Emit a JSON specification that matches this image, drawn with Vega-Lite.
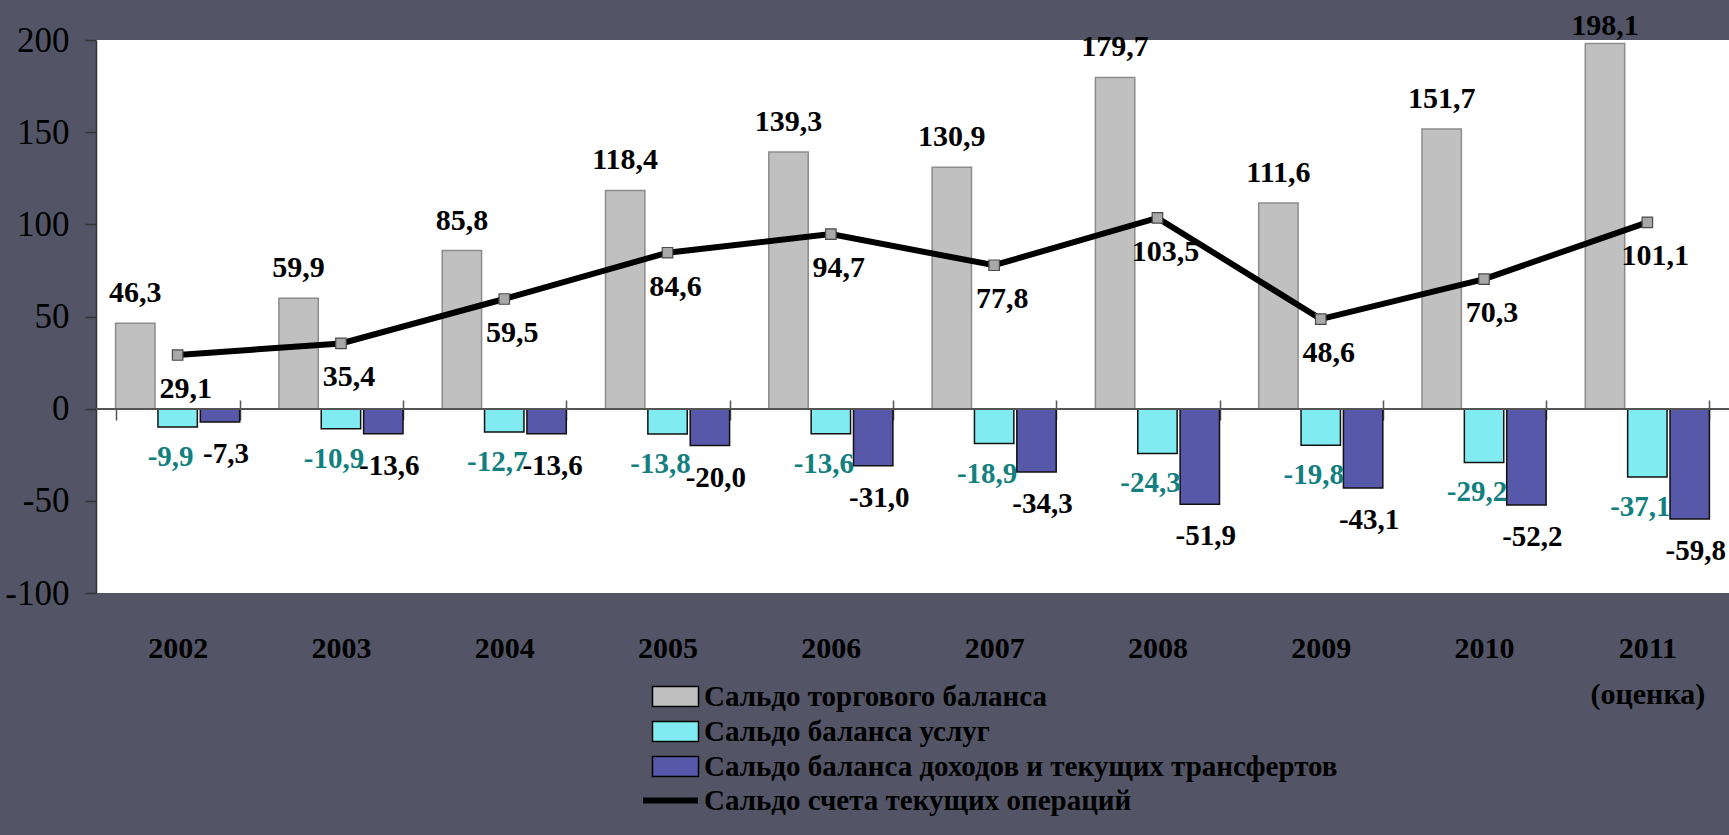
{
  "$schema": "https://vega.github.io/schema/vega-lite/v6.json",
  "width": 1633,
  "height": 553,
  "autosize": {"type": "none"},
  "padding": {"left": 96, "top": 40, "right": 0, "bottom": 242},
  "background": "#535566",
  "config": {
    "view": {"stroke": null, "fill": "white"},
    "locale": {"number": {"decimal": ",", "thousands": " ", "grouping": [3], "currency": ["", ""], "minus": "-"}},
    "font": "Liberation Serif"
  },
  "datasets": {
    "bars": [
      {"year": "2002", "series": "Сальдо торгового баланса", "value": 46.3},
      {"year": "2003", "series": "Сальдо торгового баланса", "value": 59.9},
      {"year": "2004", "series": "Сальдо торгового баланса", "value": 85.8},
      {"year": "2005", "series": "Сальдо торгового баланса", "value": 118.4},
      {"year": "2006", "series": "Сальдо торгового баланса", "value": 139.3},
      {"year": "2007", "series": "Сальдо торгового баланса", "value": 130.9},
      {"year": "2008", "series": "Сальдо торгового баланса", "value": 179.7},
      {"year": "2009", "series": "Сальдо торгового баланса", "value": 111.6},
      {"year": "2010", "series": "Сальдо торгового баланса", "value": 151.7},
      {"year": "2011", "series": "Сальдо торгового баланса", "value": 198.1},
      {"year": "2002", "series": "Сальдо баланса услуг", "value": -9.9},
      {"year": "2003", "series": "Сальдо баланса услуг", "value": -10.9},
      {"year": "2004", "series": "Сальдо баланса услуг", "value": -12.7},
      {"year": "2005", "series": "Сальдо баланса услуг", "value": -13.8},
      {"year": "2006", "series": "Сальдо баланса услуг", "value": -13.6},
      {"year": "2007", "series": "Сальдо баланса услуг", "value": -18.9},
      {"year": "2008", "series": "Сальдо баланса услуг", "value": -24.3},
      {"year": "2009", "series": "Сальдо баланса услуг", "value": -19.8},
      {"year": "2010", "series": "Сальдо баланса услуг", "value": -29.2},
      {"year": "2011", "series": "Сальдо баланса услуг", "value": -37.1},
      {"year": "2002", "series": "Сальдо баланса доходов и текущих трансфертов", "value": -7.3},
      {"year": "2003", "series": "Сальдо баланса доходов и текущих трансфертов", "value": -13.6},
      {"year": "2004", "series": "Сальдо баланса доходов и текущих трансфертов", "value": -13.6},
      {"year": "2005", "series": "Сальдо баланса доходов и текущих трансфертов", "value": -20.0},
      {"year": "2006", "series": "Сальдо баланса доходов и текущих трансфертов", "value": -31.0},
      {"year": "2007", "series": "Сальдо баланса доходов и текущих трансфертов", "value": -34.3},
      {"year": "2008", "series": "Сальдо баланса доходов и текущих трансфертов", "value": -51.9},
      {"year": "2009", "series": "Сальдо баланса доходов и текущих трансфертов", "value": -43.1},
      {"year": "2010", "series": "Сальдо баланса доходов и текущих трансфертов", "value": -52.2},
      {"year": "2011", "series": "Сальдо баланса доходов и текущих трансфертов", "value": -59.8}
    ],
    "ca": [
      {"year": "2002", "s": "Сальдо счета текущих операций", "value": 29.1},
      {"year": "2003", "s": "Сальдо счета текущих операций", "value": 35.4},
      {"year": "2004", "s": "Сальдо счета текущих операций", "value": 59.5},
      {"year": "2005", "s": "Сальдо счета текущих операций", "value": 84.6},
      {"year": "2006", "s": "Сальдо счета текущих операций", "value": 94.7},
      {"year": "2007", "s": "Сальдо счета текущих операций", "value": 77.8},
      {"year": "2008", "s": "Сальдо счета текущих операций", "value": 103.5},
      {"year": "2009", "s": "Сальдо счета текущих операций", "value": 48.6},
      {"year": "2010", "s": "Сальдо счета текущих операций", "value": 70.3},
      {"year": "2011", "s": "Сальдо счета текущих операций", "value": 101.1}
    ]
  },
  "layer": [
    {
      "data": {"name": "bars"},
      "mark": {"type": "bar", "strokeWidth": 1.5},
      "encoding": {
        "x": {
          "field": "year", "type": "nominal",
          "scale": {"paddingInner": 0.24, "paddingOuter": 0.12},
          "axis": {
            "title": null, "orient": "bottom", "offset": -193, "domain": false,
            "tickBand": "extent", "tickSize": 20, "tickColor": "#555555", "tickWidth": 1.5,
            "labelAngle": 0, "labelFont": "Liberation Serif", "labelFontSize": 30, "labelFontWeight": "bold",
            "labelColor": "black", "labelPadding": 213, "labelLineHeight": 46,
            "labelExpr": "datum.value == '2011' ? ['2011', '(оценка)'] : datum.value"
          }
        },
        "xOffset": {
          "field": "series", "type": "nominal",
          "scale": {"domain": ["Сальдо торгового баланса", "Сальдо баланса услуг", "Сальдо баланса доходов и текущих трансфертов"], "paddingInner": 0.07, "paddingOuter": 0}
        },
        "y": {
          "field": "value", "type": "quantitative",
          "scale": {"domain": [-100, 200], "nice": false, "zero": true},
          "axis": {
            "title": null, "values": [-100, -50, 0, 50, 100, 150, 200], "grid": false,
            "domainColor": "#333333", "domainWidth": 1.5, "tickColor": "#333333", "tickWidth": 1.5, "tickSize": 11,
            "labelFont": "Liberation Serif", "labelFontSize": 35, "labelColor": "black", "labelPadding": 16
          }
        },
        "fill": {
          "field": "series", "type": "nominal",
          "scale": {
            "domain": ["Сальдо торгового баланса", "Сальдо баланса услуг", "Сальдо баланса доходов и текущих трансфертов"],
            "range": ["#c0c0c0", "#80ecf2", "#5858aa"]
          },
          "legend": {
            "orient": "none", "legendX": 565, "legendY": 642, "title": null, "padding": 0,
            "symbolType": "M-2.3,-1H2.3V1H-2.3Z", "symbolSize": 400,
            "symbolStrokeColor": "black", "symbolStrokeWidth": 1.5,
            "labelFont": "Liberation Serif", "labelFontSize": 29, "labelFontWeight": "bold",
            "labelColor": "black", "labelOffset": 14, "labelLimit": 1200, "rowPadding": 5
          }
        },
        "stroke": {
          "condition": {"test": "datum.series === 'Сальдо торгового баланса'", "value": "#8c8c8c"},
          "value": "#111111"
        }
      }
    },
    {
      "data": {"name": "bars"},
      "mark": {"type": "rule", "color": "#555555", "strokeWidth": 1.5},
      "encoding": {"y": {"datum": 0}}
    },
    {
      "data": {"name": "bars"},
      "transform": [{"filter": "datum.series === 'Сальдо торгового баланса' && datum.value < 190"}],
      "mark": {"type": "text", "font": "Liberation Serif", "fontSize": 30, "fontWeight": "bold", "color": "black", "baseline": "alphabetic", "dy": -21},
      "encoding": {
        "x": {"field": "year", "type": "nominal"},
        "xOffset": {"field": "series", "type": "nominal"},
        "y": {"field": "value", "type": "quantitative"},
        "text": {"field": "value", "type": "quantitative", "format": ".1f"}
      }
    },
    {
      "data": {"name": "bars"},
      "transform": [{"filter": "datum.series === 'Сальдо торгового баланса' && datum.value >= 190"}],
      "mark": {"type": "text", "font": "Liberation Serif", "fontSize": 30, "fontWeight": "bold", "color": "black", "baseline": "alphabetic", "dy": -9},
      "encoding": {
        "x": {"field": "year", "type": "nominal"},
        "xOffset": {"field": "series", "type": "nominal"},
        "y": {"field": "value", "type": "quantitative"},
        "text": {"field": "value", "type": "quantitative", "format": ".1f"}
      }
    },
    {
      "data": {"name": "bars"},
      "transform": [{"filter": "datum.series === 'Сальдо баланса услуг'"}],
      "mark": {"type": "text", "font": "Liberation Serif", "fontSize": 29, "fontWeight": "bold", "color": "#13807f", "baseline": "alphabetic", "dy": 39, "dx": -7},
      "encoding": {
        "x": {"field": "year", "type": "nominal"},
        "xOffset": {"field": "series", "type": "nominal"},
        "y": {"field": "value", "type": "quantitative"},
        "text": {"field": "value", "type": "quantitative", "format": ".1f"}
      }
    },
    {
      "data": {"name": "bars"},
      "transform": [{"filter": "datum.series === 'Сальдо баланса доходов и текущих трансфертов'"}],
      "mark": {"type": "text", "font": "Liberation Serif", "fontSize": 29, "fontWeight": "bold", "color": "black", "baseline": "alphabetic", "dy": 41, "dx": 6},
      "encoding": {
        "x": {"field": "year", "type": "nominal"},
        "xOffset": {"field": "series", "type": "nominal"},
        "y": {"field": "value", "type": "quantitative"},
        "text": {"field": "value", "type": "quantitative", "format": ".1f"}
      }
    },
    {
      "data": {"name": "ca"},
      "mark": {"type": "line", "strokeWidth": 6},
      "encoding": {
        "x": {"field": "year", "type": "nominal"},
        "y": {"field": "value", "type": "quantitative"},
        "stroke": {
          "field": "s", "type": "nominal",
          "scale": {"domain": ["Сальдо счета текущих операций"], "range": ["black"]},
          "legend": {
            "orient": "none", "legendX": 544, "legendY": 730, "title": null, "padding": 0,
            "symbolType": "stroke", "symbolSize": 3025, "symbolStrokeWidth": 6,
            "labelFont": "Liberation Serif", "labelFontSize": 29, "labelFontWeight": "bold",
            "labelColor": "black", "labelOffset": 3, "labelLimit": 1200
          }
        }
      }
    },
    {
      "data": {"name": "ca"},
      "mark": {"type": "point", "shape": "square", "size": 110, "filled": true, "fill": "#a8a8a8", "stroke": "#4a4a4a", "strokeWidth": 1.2, "opacity": 1},
      "encoding": {
        "x": {"field": "year", "type": "nominal"},
        "y": {"field": "value", "type": "quantitative"}
      }
    },
    {
      "data": {"name": "ca"},
      "mark": {"type": "text", "font": "Liberation Serif", "fontSize": 30, "fontWeight": "bold", "color": "black", "baseline": "alphabetic", "dy": 43, "dx": 8},
      "encoding": {
        "x": {"field": "year", "type": "nominal"},
        "y": {"field": "value", "type": "quantitative"},
        "text": {"field": "value", "type": "quantitative", "format": ".1f"}
      }
    }
  ]
}
